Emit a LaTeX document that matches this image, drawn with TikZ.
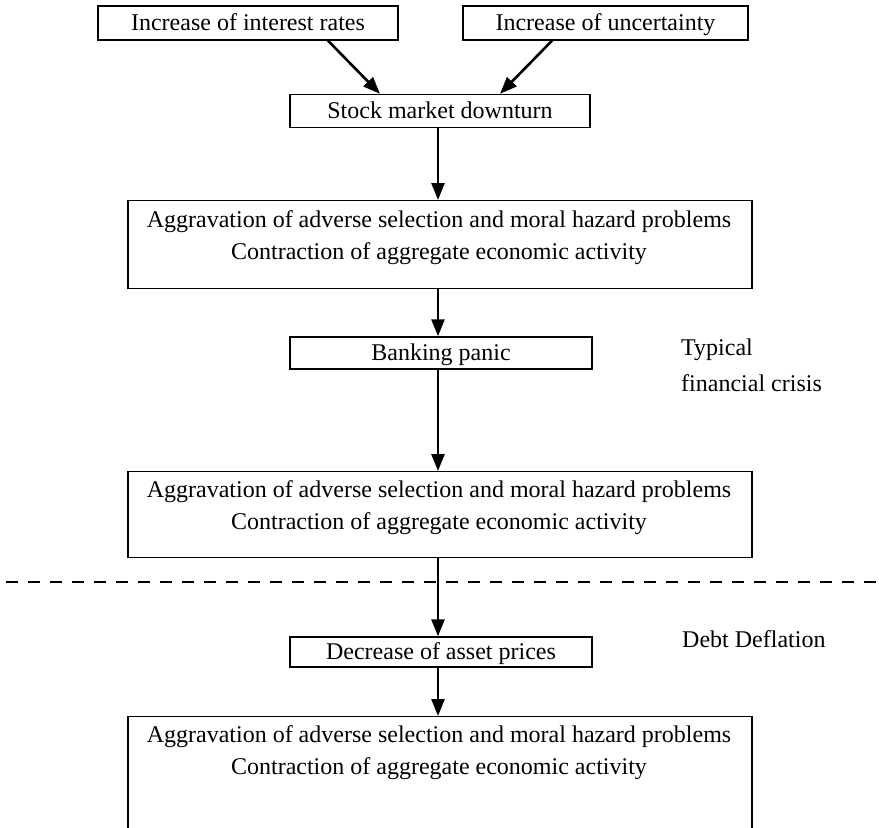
\documentclass[tikz,border=0pt]{standalone}
\usepackage{fontspec}
\setmainfont{Liberation Serif}
\usetikzlibrary{arrows.meta}
\begin{document}
\begin{tikzpicture}[x=1pt,y=-1pt,
  font=\fontsize{24}{32}\selectfont,
  box/.style={draw, line width=1.4pt, inner sep=0pt, minimum height=34pt, text height=18pt, text depth=4pt},
  bigbox/.style={draw, line width=1.4pt, inner sep=0pt, minimum width=624pt, minimum height=88pt},
  txt/.style={align=center, inner sep=0pt},
  side/.style={anchor=base west, inner sep=0pt},
  flow/.style={line width=2.6pt, -{Triangle[length=17pt,width=13pt]}},
  divider/.style={line width=2.6pt, dash pattern=on 12pt off 10pt}]
\useasboundingbox (0,0) rectangle (879,828);
\clip (0,0) rectangle (879,828);

% top causes
\node[box, minimum width=300pt] (rates) at (248,23) {Increase of interest rates};
\node[box, minimum width=285pt] (unc) at (605.5,23) {Increase of uncertainty};
\node[box, minimum width=300pt, minimum height=33pt] (stock) at (440,111) {Stock market downturn};

% first round of aggravation
\node[bigbox, anchor=north] (agg1) at (440,200) {};
\node[txt] (agg1txt) at (439,238) {Aggravation of adverse selection and moral hazard problems\\Contraction of aggregate economic activity};

\node[box, minimum width=302pt, minimum height=32pt] (bank) at (441,353) {Banking panic};
\node[side] (typ) at (681,355) {Typical};
\node[side] (fin) at (681,391) {financial crisis};

% second round of aggravation
\node[bigbox, anchor=north, minimum height=86pt] (agg2) at (440,471) {};
\node[txt] (agg2txt) at (439,508) {Aggravation of adverse selection and moral hazard problems\\Contraction of aggregate economic activity};

% divider between the two phases
\coordinate (dl) at (6,582);
\coordinate (dr) at (879,582);
\draw[divider] (dl) -- (dr);

\node[box, minimum width=302pt, minimum height=30pt] (asset) at (441,652) {Decrease of asset prices};
\node[side] (debt) at (682,647) {Debt Deflation};

% third round of aggravation
\node[draw, line width=1.4pt, inner sep=0pt, minimum width=624pt, minimum height=130pt, anchor=north] (agg3) at (440,716) {};
\node[txt] (agg3txt) at (439,753) {Aggravation of adverse selection and moral hazard problems\\Contraction of aggregate economic activity};

% connectors
\draw[flow] ([xshift=80pt]rates.south) -- ([xshift=-60pt]stock.north);
\draw[flow] ([xshift=-53.5pt]unc.south) -- ([xshift=60pt]stock.north);
\draw[flow] ([xshift=-2pt]stock.south) -- ([xshift=-2pt]agg1.north);
\draw[flow] ([xshift=-2pt]agg1.south) -- ([xshift=-3pt]bank.north);
\draw[flow] ([xshift=-3pt]bank.south) -- ([xshift=-2pt]agg2.north);
\draw[flow] ([xshift=-2pt]agg2.south) -- ([xshift=-3pt]asset.north);
\draw[flow] ([xshift=-3pt]asset.south) -- ([xshift=-2pt]agg3.north);
\end{tikzpicture}
\end{document}
